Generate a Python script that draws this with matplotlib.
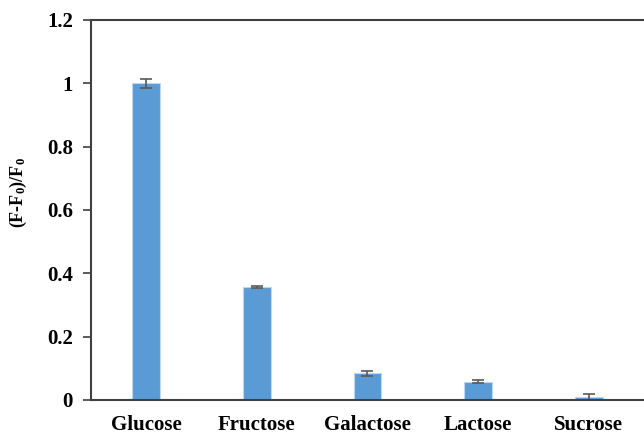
import numpy as np
import matplotlib.pyplot as plt

plt.rcParams['font.family'] = 'Liberation Serif'
plt.rcParams['font.weight'] = 'bold'
plt.rcParams['mathtext.fontset'] = 'custom'
plt.rcParams['mathtext.rm'] = 'Liberation Serif:bold'
plt.rcParams['mathtext.it'] = 'Liberation Serif:bold'
plt.rcParams['mathtext.bf'] = 'Liberation Serif:bold'

sugars = ["Glucose", "Fructose", "Galactose", "Lactose", "Sucrose"]
response = [1.0, 0.358, 0.084, 0.058, 0.010]
errors = [0.015, 0.003, 0.009, 0.005, 0.010]
yticks = [0, 0.2, 0.4, 0.6, 0.8, 1, 1.2]

fig = plt.figure(figsize=(6.44, 4.38), dpi=100)
ax = fig.add_axes([0.1413, 0.0868, 0.8587, 0.8676])

x = np.arange(len(sugars))
ax.bar(x, response, width=0.25, color='#5B9BD5', edgecolor='#BDD7EE', linewidth=0.8,
       yerr=errors, error_kw=dict(ecolor='#595959', elinewidth=1.2, capsize=4, capthick=1.2))

ax.set_xlim(-0.5, 4.5)
ax.set_ylim(0, 1.2)
ax.set_xticks(x)
ax.set_xticklabels(sugars, fontsize=15, fontweight='bold')
ax.set_yticks(yticks)
ax.set_yticklabels([str(t) for t in yticks], fontsize=15, fontweight='bold')
ax.tick_params(axis='x', length=0, pad=11)
ax.tick_params(axis='y', direction='out', length=6, width=1.2, color='#404040', pad=7)

for side in ['left', 'bottom', 'top']:
    ax.spines[side].set_color('#404040')
    ax.spines[side].set_linewidth(1.5)
ax.spines['right'].set_visible(False)

ax.set_ylabel("(F-F$_0$)/F$_0$", fontsize=13, fontweight='bold')
ax.yaxis.set_label_coords(-0.112, 0.545)

fig.savefig("out.png", dpi=100)
